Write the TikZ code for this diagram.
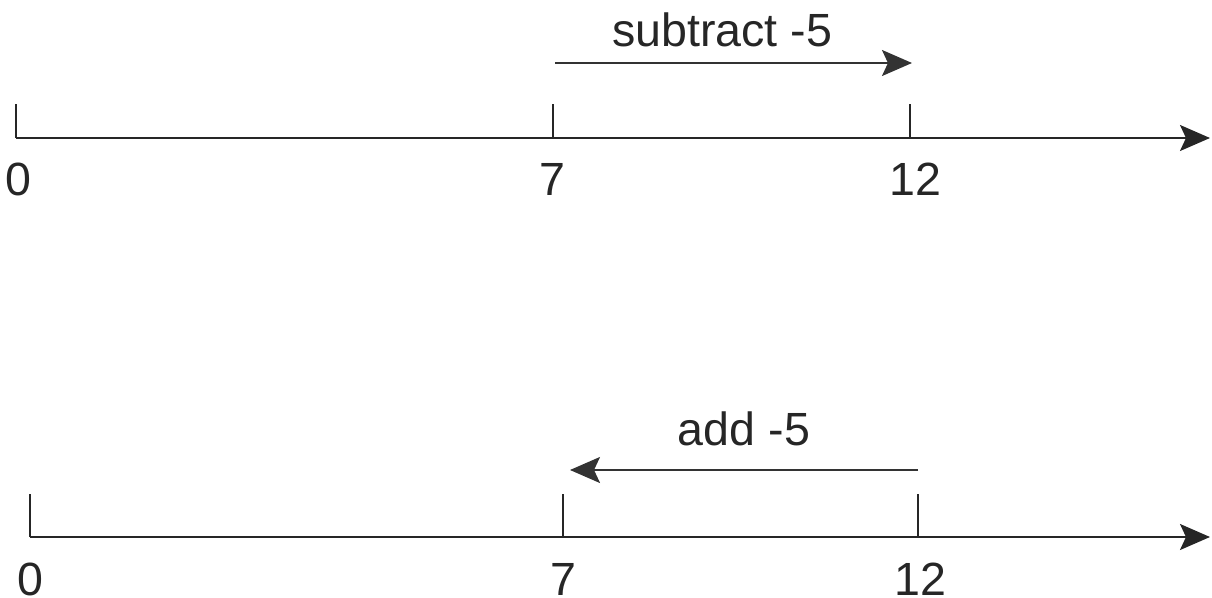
\documentclass[tikz,border=0pt]{standalone}
\usepackage{fontspec}
\setmainfont{Liberation Sans}
\usetikzlibrary{arrows.meta}
\tikzstyle{axis}=[line width=1.2pt, draw=black!85,
                  -{Stealth[length=6mm,width=5.2mm,inset=1.2mm]}]
\tikzstyle{tick}=[line width=1.2pt, draw=black!85]
\tikzstyle{move}=[line width=1.2pt, draw=black!80,
                  -{Stealth[length=6mm,width=5.2mm,inset=1.2mm]}]
\tikzstyle{num}=[anchor=base, inner sep=0pt, text=black!85,
                 font=\fontsize{26.5}{31}\selectfont]

\begin{document}
\begin{tikzpicture}
  \useasboundingbox (0,0) rectangle (24.24,11.94);
  % upper number line
  \coordinate (u0) at (0.32,9.18);
  \coordinate (u7) at (11.06,9.18);
  \coordinate (u12) at (18.2,9.18);
  \coordinate (uend) at (24.2,9.18);
  \draw[axis] (u0) -- (uend);
  \foreach \p in {u0,u7,u12} \draw[tick] (\p) -- ++(0,0.68);
  \node[num] (lu0) at (0.36,8.04) {0};
  \node[num] (lu7) at (11.04,8.04) {7};
  \node[num] (lu12) at (18.3,8.04) {12};
  \coordinate (sfrom) at (11.1,10.68);
  \coordinate (sto) at (18.24,10.68);
  \draw[move] (sfrom) -- (sto);
  \node[num] (subt) at (14.44,11.0) {subtract -5};
  % lower number line
  \coordinate (d0) at (0.6,1.2);
  \coordinate (d7) at (11.26,1.2);
  \coordinate (d12) at (18.36,1.2);
  \coordinate (dend) at (24.2,1.2);
  \draw[axis] (d0) -- (dend);
  \foreach \p in {d0,d7,d12} \draw[tick] (\p) -- ++(0,0.86);
  \node[num] (ld0) at (0.6,0.04) {0};
  \node[num] (ld7) at (11.26,0.04) {7};
  \node[num] (ld12) at (18.4,0.04) {12};
  \coordinate (afrom) at (18.36,2.54);
  \coordinate (ato) at (11.4,2.54);
  \draw[move] (afrom) -- (ato);
  \node[num] (addn) at (14.88,3.04) {add -5};
\end{tikzpicture}
\end{document}
